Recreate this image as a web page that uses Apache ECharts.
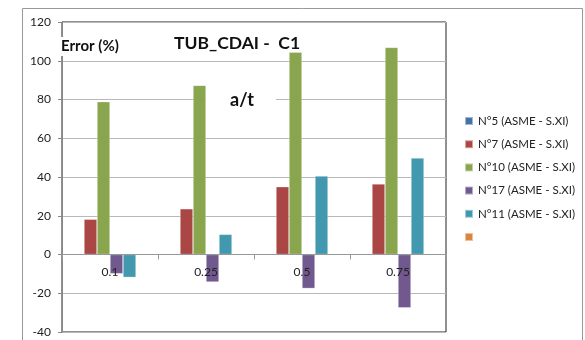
<!DOCTYPE html>
<html>
<head>
<meta charset="utf-8">
<script src="https://cdn.jsdelivr.net/npm/echarts@6/dist/echarts.min.js"></script>
<style>
  html, body { margin: 0; padding: 0; background: #fff; }
  #chart { width: 585px; height: 340px; }
</style>
</head>
<body>
<div id="chart"></div>
<script>
// Crack depth ratio a/t
const categories = ['0.1', '0.25', '0.5', '0.75'];

// Error (%) per specimen
const seriesNames = ['N°5 (ASME - S.XI)', 'N°7 (ASME - S.XI)', 'N°10 (ASME - S.XI)', 'N°17 (ASME - S.XI)', 'N°11 (ASME - S.XI)', ' '];
const n5  = [null, null, null, null];
const n7  = [18.2, 23.6, 35.0, 36.4];
const n10 = [78.9, 87.3, 104.4, 106.9];
const n17 = [-9.9, -14.2, -17.5, -27.5];
const n11 = [-11.8, 10.4, 40.5, 49.8];
const extra = [null, null, null, null];

const yTicks = { min: -40, max: 120, step: 20 };

const colors = ['#4572A7', '#AA4643', '#89A54E', '#71588F', '#4198AF', '#DB843D'];
const values = [n5, n7, n10, n17, n11, extra];

const FONT = 'Lato, "Open Sans", sans-serif';

// plot box
const GRID = { left: 62, top: 22, width: 384, height: 310 };
// lift the category axis up to the zero line
const zeroOffset = -GRID.height * (0 - yTicks.min) / (yTicks.max - yTicks.min);

const chart = echarts.init(document.getElementById('chart'), null, { renderer: 'canvas' });

chart.setOption({
  animation: false,
  backgroundColor: '#fff',
  color: colors,
  grid: Object.assign({}, GRID, {
    outerBoundsMode: 'none', containLabel: false,
    show: true, borderColor: '#222', borderWidth: 1, backgroundColor: 'transparent'
  }),
  legend: {
    orient: 'vertical',
    left: 459, top: 110,
    itemWidth: 8, itemHeight: 8, itemGap: 11.2,
    icon: 'rect',
    textStyle: { fontFamily: FONT, fontSize: 11.5, color: '#222' },
    data: seriesNames
  },
  xAxis: {
    type: 'category',
    data: categories,
    position: 'bottom',
    offset: zeroOffset,
    axisLine: { onZero: false, lineStyle: { color: '#999' } },
    axisTick: { show: true, length: 5, alignWithLabel: false, lineStyle: { color: '#999' } },
    axisLabel: { fontFamily: FONT, fontSize: 12, color: '#222', margin: 12 },
    z: 5
  },
  yAxis: {
    type: 'value',
    min: yTicks.min, max: yTicks.max, interval: yTicks.step,
    axisLine: { show: true, lineStyle: { color: '#888' } },
    axisTick: { show: true, length: 4, lineStyle: { color: '#888' } },
    axisLabel: { fontFamily: FONT, fontSize: 12, color: '#222', margin: 11 },
    splitLine: { lineStyle: { color: '#b8b8b8' } }
  },
  graphic: [
    {
      type: 'rect', silent: true, z: -1,
      shape: { x: 22.5, y: 8.5, width: 560, height: 340 },
      style: { fill: 'none', stroke: '#999', lineWidth: 1 }
    },
    {
      type: 'text', left: 59, top: 37, z: 10,
      style: { text: 'Error (%)', font: 'bold 15px ' + FONT, fill: '#111',
               backgroundColor: '#fff', padding: [2, 2, 2, 2] }
    },
    {
      type: 'text', left: 174, top: 34, z: 10,
      style: { text: 'TUB_CDAI -  C1', font: 'bold 17.5px ' + FONT, fill: '#111' }
    },
    {
      type: 'text', left: 206, top: 89, z: 10,
      style: { text: 'a/t', font: 'bold 18px ' + FONT, fill: '#111',
               backgroundColor: '#fff', padding: [2, 22, 2, 24] }
    }
  ],
  series: values.map((d, i) => ({
    name: seriesNames[i],
    type: 'bar',
    data: d,
    barWidth: 13,
    barGap: '0%',
    itemStyle: { borderColor: 'rgba(255,255,255,0.5)', borderWidth: 0.6 }
  }))
});
</script>
</body>
</html>
